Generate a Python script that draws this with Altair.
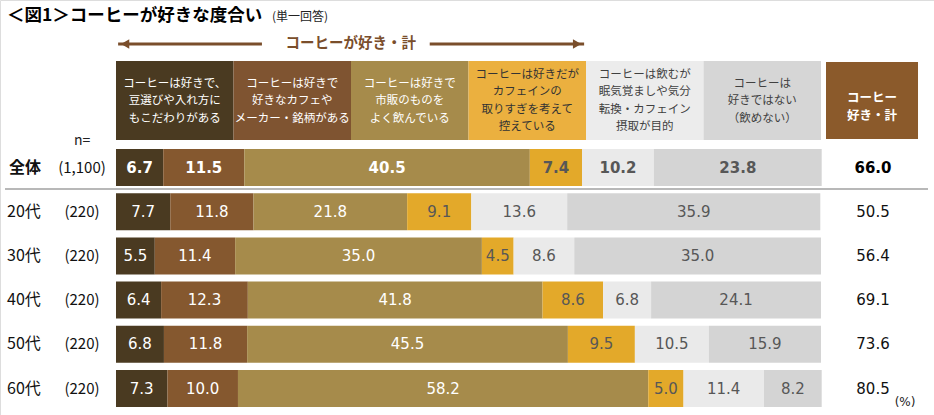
import altair as alt
import pandas as pd

# ---------------- data ----------------
categories = [
    "コーヒーは好きで、\n豆選びや入れ方に\nもこだわりがある",
    "コーヒーは好きで\n好きなカフェや\nメーカー・銘柄がある",
    "コーヒーは好きで\n市販のものを\nよく飲んでいる",
    "コーヒーは好きだが\nカフェインの\n取りすぎを考えて\n控えている",
    "コーヒーは飲むが\n眠気覚ましや気分\n転換・カフェイン\n摂取が目的",
    "コーヒーは\n好きではない\n（飲めない）",
]
rows = ["全体", "20代", "30代", "40代", "50代", "60代"]
n_labels = ["(1,100)", "(220)", "(220)", "(220)", "(220)", "(220)"]
s1 = [6.7, 7.7, 5.5, 6.4, 6.8, 7.3]
s2 = [11.5, 11.8, 11.4, 12.3, 11.8, 10.0]
s3 = [40.5, 21.8, 35.0, 41.8, 45.5, 58.2]
s4 = [7.4, 9.1, 4.5, 8.6, 9.5, 5.0]
s5 = [10.2, 13.6, 8.6, 6.8, 10.5, 11.4]
s6 = [23.8, 35.9, 35.0, 24.1, 15.9, 8.2]
totals = [66.0, 50.5, 56.4, 69.1, 73.6, 80.5]
series = [s1, s2, s3, s4, s5, s6]

cat_colors = ["#4A3A21", "#85582F", "#A68B4B", "#E3A92A", "#EAEAEA", "#D4D4D4"]
head_colors = ["#4A3A21", "#7F5431", "#A68B4B", "#EBB03F", "#ECECEC", "#D6D6D6"]
head_text_colors = ["#FFFFFF", "#FFFFFF", "#FFFFFF", "#333333", "#404040", "#404040"]
BROWN = "#7A4E2B"
JP = "Noto Sans CJK JP"
NUM = "DejaVu Sans"

# ---------------- tables ----------------
recs = []
for ri, r in enumerate(rows):
    cum = 0.0
    for ci, s in enumerate(series):
        v = s[ri]
        recs.append({"row": r, "ci": ci, "start": cum, "end": cum + v,
                     "mid": cum + v / 2, "value": v})
        cum += v
bars = pd.DataFrame(recs)

heads = pd.DataFrame({
    "ci": list(range(6)),
    "label": categories,
    "x0": [i * 100 / 6 for i in range(6)],
    "x1": [(i + 1) * 100 / 6 for i in range(6)],
})
heads["xm"] = (heads["x0"] + heads["x1"]) / 2
heads["fill"] = head_colors
heads["tc"] = head_text_colors
heads["nl"] = [c.count("\n") + 1 for c in categories]

rowdf = pd.DataFrame({"row": rows, "n": n_labels, "total": totals})

X = alt.Scale(domain=[-16.4539, 116.0284], nice=False, zero=False)
Y = alt.Scale(domain=rows, range=[145.4, 410.6], paddingInner=0.163, paddingOuter=0.0815)
cat_scale = alt.Scale(domain=list(range(6)), range=cat_colors)
one = pd.DataFrame({"a": [0]})

# ---------------- layers ----------------
title = alt.Chart(one).mark_text(text="＜図1＞コーヒーが好きな度合い", font=JP, fontSize=17.5,
                                 fontWeight="bold", align="left", baseline="middle",
                                 color="#000000").encode(x=alt.value(7), y=alt.value(16))
subtitle = alt.Chart(one).mark_text(text="(単一回答)", font=JP, fontSize=12, align="left",
                                    baseline="middle", color="#222222").encode(
    x=alt.value(272), y=alt.value(17))

arrow_df = pd.DataFrame({"x0": [0.3, 44.5], "x1": [20.7, 66.4]})
arrow_lines = alt.Chart(arrow_df).mark_rule(color=BROWN, strokeWidth=3).encode(
    x=alt.X("x0:Q", scale=X, axis=None), x2="x1:Q", y=alt.value(44))
heads_df = pd.DataFrame({"x": [1.3, 65.4], "shape": ["triangle-left", "triangle-right"]})
arrow_heads = alt.Chart(heads_df).mark_point(filled=True, size=90, color=BROWN, opacity=1).encode(
    x=alt.X("x:Q", scale=X, axis=None), y=alt.value(44),
    shape=alt.Shape("shape:N", scale=None))
arrow_text = alt.Chart(pd.DataFrame({"x": [33.3]})).mark_text(
    text="コーヒーが好き・計", font=JP, fontSize=14.5, fontWeight="bold", color=BROWN,
    baseline="middle").encode(x=alt.X("x:Q", scale=X, axis=None), y=alt.value(44))

head_rects = alt.Chart(heads).mark_rect().encode(
    x=alt.X("x0:Q", scale=X, axis=None), x2="x1:Q",
    y=alt.value(61), y2=alt.value(140),
    fill=alt.Fill("fill:N", scale=None))
LH = 17.5
HC = 101
head_texts3 = alt.Chart(heads).transform_filter("datum.nl == 3").mark_text(
    font=JP, fontSize=11.5, lineHeight=LH, lineBreak="\n", baseline="middle").encode(
    x=alt.X("xm:Q", scale=X, axis=None), y=alt.value(HC - LH),
    text="label:N", color=alt.Color("tc:N", scale=None))
head_texts4 = alt.Chart(heads).transform_filter("datum.nl == 4").mark_text(
    font=JP, fontSize=11.5, lineHeight=LH, lineBreak="\n", baseline="middle").encode(
    x=alt.X("xm:Q", scale=X, axis=None), y=alt.value(HC - 1.5 * LH),
    text="label:N", color=alt.Color("tc:N", scale=None))

tot_head = alt.Chart(pd.DataFrame({"x0": [100.71], "x1": [113.76]})).mark_rect(color="#8B5A2B").encode(
    x=alt.X("x0:Q", scale=X, axis=None), x2="x1:Q", y=alt.value(62), y2=alt.value(139))
tot_head_text = alt.Chart(pd.DataFrame({"x": [107.24]})).mark_text(
    text="コーヒー\n好き・計", lineBreak="\n", font=JP, fontSize=12.5, fontWeight="bold",
    lineHeight=18, color="#FFFFFF", baseline="middle").encode(
    x=alt.X("x:Q", scale=X, axis=None), y=alt.value(98))

n_eq = alt.Chart(one).mark_text(text="n=", font=JP, fontSize=14, align="left",
                                baseline="middle", color="#222222").encode(
    x=alt.value(74), y=alt.value(141))

sep = alt.Chart(one).mark_rule(color="#A0A0A0", strokeWidth=1.5).encode(
    x=alt.value(5), x2=alt.value(928), y=alt.value(189))

bar_rects = alt.Chart(bars).mark_rect().encode(
    x=alt.X("start:Q", scale=X, axis=None), x2="end:Q",
    y=alt.Y("row:N", scale=Y, axis=None),
    fill=alt.Fill("ci:O", scale=cat_scale, legend=None))

lab_color = alt.condition("datum.ci < 3", alt.value("#FFFFFF"), alt.value("#575757"))
bar_labels_all = alt.Chart(bars).transform_filter("datum.row == '全体'").mark_text(
    font=NUM, fontSize=15, fontWeight="bold", baseline="middle").encode(
    x=alt.X("mid:Q", scale=X, axis=None), y=alt.Y("row:N", scale=Y, axis=None),
    text=alt.Text("value:Q", format=".1f"), color=lab_color)
bar_labels = alt.Chart(bars).transform_filter("datum.row != '全体'").mark_text(
    font=NUM, fontSize=15, baseline="middle").encode(
    x=alt.X("mid:Q", scale=X, axis=None), y=alt.Y("row:N", scale=Y, axis=None),
    text=alt.Text("value:Q", format=".1f"), color=lab_color)

row_names_all = alt.Chart(rowdf).transform_filter("datum.row == '全体'").mark_text(
    font=JP, fontSize=16, fontWeight="bold", align="left", baseline="middle", color="#111111").encode(
    x=alt.value(9), y=alt.Y("row:N", scale=Y, axis=None), text="row:N")
row_names = alt.Chart(rowdf).transform_filter("datum.row != '全体'").mark_text(
    font=JP, fontSize=16, align="left", baseline="middle", color="#111111").encode(
    x=alt.value(7), y=alt.Y("row:N", scale=Y, axis=None), text="row:N")
row_n = alt.Chart(rowdf).mark_text(font=JP, fontSize=15, align="center", baseline="middle",
                                   color="#111111").encode(
    x=alt.value(82), y=alt.Y("row:N", scale=Y, axis=None), text="n:N")

tot_all = alt.Chart(rowdf).transform_filter("datum.row == '全体'").mark_text(
    font=NUM, fontSize=15, fontWeight="bold", baseline="middle", color="#000000").encode(
    x=alt.value(873), y=alt.Y("row:N", scale=Y, axis=None),
    text=alt.Text("total:Q", format=".1f"))
tot = alt.Chart(rowdf).transform_filter("datum.row != '全体'").mark_text(
    font=NUM, fontSize=15, baseline="middle", color="#111111").encode(
    x=alt.value(873), y=alt.Y("row:N", scale=Y, axis=None),
    text=alt.Text("total:Q", format=".1f"))

pct = alt.Chart(one).mark_text(text="(%)", font=NUM, fontSize=12, baseline="middle",
                               color="#222222").encode(x=alt.value(905), y=alt.value(402))

chart = alt.layer(
    title, subtitle, arrow_lines, arrow_heads, arrow_text,
    head_rects, head_texts3, head_texts4, tot_head, tot_head_text, n_eq, sep,
    bar_rects, bar_labels_all, bar_labels, row_names_all, row_names, row_n,
    tot_all, tot, pct,
).properties(
    width=934, height=415, padding=0,
    autosize=alt.AutoSizeParams(type="none"),
).configure_view(stroke=None).configure(background="#FFFFFF")

chart.save("out.html", embed_options={"renderer": "svg", "actions": False})
